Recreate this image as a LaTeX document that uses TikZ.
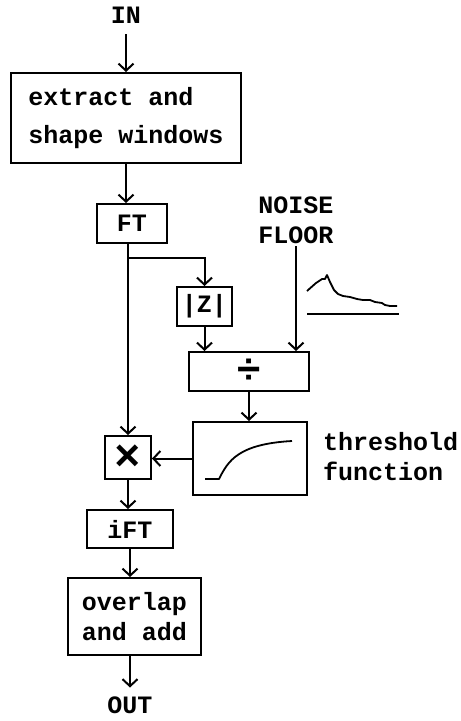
\documentclass[tikz,border=0pt]{standalone}
\usepackage{fontspec}
\setmonofont{Liberation Mono}
\usetikzlibrary{arrows.meta}

\tikzset{
    block/.style={draw,inner sep=0pt,align=center},
    txt/.style={inner sep=2pt,align=left},
    sig/.style={line width=1.8pt,line join=round}
}

\begin{document}
\begin{tikzpicture}[x=1pt,y=-1pt,line width=2pt,
    >={Straight Barb[length=7pt,width=15pt,line width=2pt]},
    font=\fontsize{25}{30}\selectfont\ttfamily\bfseries]

        \useasboundingbox (0,0) rectangle (461,721);

        % Inputs and outputs
        \node[txt] (in) at (126,15) {IN};
        \node[txt] (noise) at (296,220) {NOISE\\FLOOR};
        \node[txt] (out) at (130,705) {OUT};

        % Processing blocks
        \node[block,align=left,minimum width=230pt,minimum height=90pt,
              font=\fontsize{25}{38}\selectfont\ttfamily\bfseries]
            (win) at (126,118) {extract and\\shape windows};
        \node[block,minimum width=70pt,minimum height=39pt] (ft) at (132,223.5) {FT};
        \node[block,minimum width=55pt,minimum height=39pt] (absz) at (204.5,306.5) {|Z|};
        \node[block,minimum width=120pt,minimum height=39pt,
              font=\fontsize{42}{42}\selectfont\ttfamily\bfseries]
            (divd) at (249,371.5) {÷};
        \node[block,minimum width=114pt,minimum height=73pt] (thr) at (250,458.5) {};
        \node[block,minimum width=46pt,minimum height=43pt,
              font=\fontsize{44}{44}\selectfont\ttfamily\bfseries]
            (mul) at (128,457.5) {×};
        \node[block,minimum width=86pt,minimum height=38pt] (ift) at (130,529) {iFT};
        \node[block,minimum width=133pt,minimum height=77pt] (ola) at (134.5,616.5) {overlap\\and add};

        \node[txt,anchor=west] (thrtxt) at (320,456.5) {threshold\\function};

        % Branch point below FT
        \coordinate (br) at (128,258);

        % Signal path
        \draw[->,shorten <=8pt] (in) -- (win);
        \draw[->] (win.south) -- (win.south |- ft.north);
        \draw[->] (ft.south -| mul.north) -- (mul.north);
        \draw[->] (br) -| (absz.north);
        \draw[->] (absz.south) -- (absz.south |- divd.north);
        \draw[->] (noise.south) -- (noise.south |- divd.north);
        \draw[->] (divd.south) -- (divd.south |- thr.north);
        \draw[->] (thr.west) -- (thr.west -| mul.east);
        \draw[->] (mul.south) -- (mul.south |- ift.north);
        \draw[->] (ift.south) -- (ift.south |- ola.north);
        \draw[->,shorten >=6pt] (ola.south -| out.north) -- (out.north);

        % Noise floor sketch
        \draw[sig] plot coordinates {
                (307,291)
                (316,283)
                (322,279)
                (325,279)
                (327,275)
                (330,282)
                (334,290)
                (338,294)
                (343,296)
                (350,297)
                (357,299)
                (363,300)
                (370,300)
                (375,302)
                (382,303)
                (385,305)
                (390,306)
                (397,306)
            };
        \draw[sig] (307,314) -- (399,314);

        % Threshold curve
        \draw[sig] (205,479) -- (219,479)
            .. controls (228,461) and (238,444) .. (292,441);

    \end{tikzpicture}
\end{document}
